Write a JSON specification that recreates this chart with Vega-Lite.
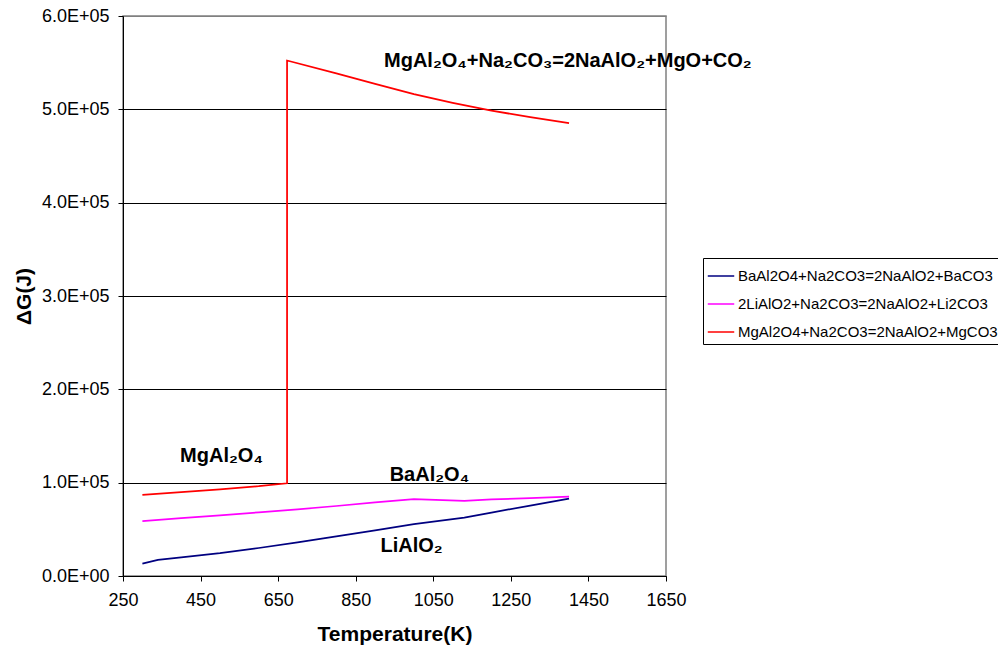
{
  "$schema": "https://vega.github.io/schema/vega-lite/v6.json",
  "autosize": "none",
  "width": 543,
  "height": 560,
  "padding": {"left": 123, "top": 16, "right": 332, "bottom": 73},
  "background": "white",
  "config": {
    "font": "Liberation Sans",
    "view": {"stroke": "#808080", "strokeWidth": 1.5},
    "axis": {"labelColor": "black", "titleColor": "black", "domainColor": "black", "tickColor": "black", "labelFont": "Liberation Sans", "titleFont": "Liberation Sans"}
  },
  "datasets": {
    "lines": [
      {"s": "BaAl2O4+Na2CO3=2NaAlO2+BaCO3", "i": 1, "T": 300, "G": 13200},
      {"s": "BaAl2O4+Na2CO3=2NaAlO2+BaCO3", "i": 2, "T": 340, "G": 17200},
      {"s": "BaAl2O4+Na2CO3=2NaAlO2+BaCO3", "i": 3, "T": 400, "G": 20000},
      {"s": "BaAl2O4+Na2CO3=2NaAlO2+BaCO3", "i": 4, "T": 500, "G": 24500},
      {"s": "BaAl2O4+Na2CO3=2NaAlO2+BaCO3", "i": 5, "T": 600, "G": 30000},
      {"s": "BaAl2O4+Na2CO3=2NaAlO2+BaCO3", "i": 6, "T": 700, "G": 36000},
      {"s": "BaAl2O4+Na2CO3=2NaAlO2+BaCO3", "i": 7, "T": 800, "G": 42500},
      {"s": "BaAl2O4+Na2CO3=2NaAlO2+BaCO3", "i": 8, "T": 900, "G": 49000},
      {"s": "BaAl2O4+Na2CO3=2NaAlO2+BaCO3", "i": 9, "T": 1000, "G": 55500},
      {"s": "BaAl2O4+Na2CO3=2NaAlO2+BaCO3", "i": 10, "T": 1130, "G": 62500},
      {"s": "BaAl2O4+Na2CO3=2NaAlO2+BaCO3", "i": 11, "T": 1200, "G": 68000},
      {"s": "BaAl2O4+Na2CO3=2NaAlO2+BaCO3", "i": 12, "T": 1300, "G": 75500},
      {"s": "BaAl2O4+Na2CO3=2NaAlO2+BaCO3", "i": 13, "T": 1400, "G": 83000},
      {"s": "2LiAlO2+Na2CO3=2NaAlO2+Li2CO3", "i": 1, "T": 300, "G": 58900},
      {"s": "2LiAlO2+Na2CO3=2NaAlO2+Li2CO3", "i": 2, "T": 400, "G": 62000},
      {"s": "2LiAlO2+Na2CO3=2NaAlO2+Li2CO3", "i": 3, "T": 500, "G": 65000},
      {"s": "2LiAlO2+Na2CO3=2NaAlO2+Li2CO3", "i": 4, "T": 600, "G": 68200},
      {"s": "2LiAlO2+Na2CO3=2NaAlO2+Li2CO3", "i": 5, "T": 700, "G": 71500},
      {"s": "2LiAlO2+Na2CO3=2NaAlO2+Li2CO3", "i": 6, "T": 800, "G": 75000},
      {"s": "2LiAlO2+Na2CO3=2NaAlO2+Li2CO3", "i": 7, "T": 900, "G": 78800},
      {"s": "2LiAlO2+Na2CO3=2NaAlO2+Li2CO3", "i": 8, "T": 1000, "G": 82400},
      {"s": "2LiAlO2+Na2CO3=2NaAlO2+Li2CO3", "i": 9, "T": 1130, "G": 80400},
      {"s": "2LiAlO2+Na2CO3=2NaAlO2+Li2CO3", "i": 10, "T": 1200, "G": 82000},
      {"s": "2LiAlO2+Na2CO3=2NaAlO2+Li2CO3", "i": 11, "T": 1300, "G": 83500},
      {"s": "2LiAlO2+Na2CO3=2NaAlO2+Li2CO3", "i": 12, "T": 1400, "G": 85000},
      {"s": "MgAl2O4+Na2CO3=2NaAlO2+MgCO3", "i": 1, "T": 300, "G": 87000},
      {"s": "MgAl2O4+Na2CO3=2NaAlO2+MgCO3", "i": 2, "T": 400, "G": 89900},
      {"s": "MgAl2O4+Na2CO3=2NaAlO2+MgCO3", "i": 3, "T": 500, "G": 92900},
      {"s": "MgAl2O4+Na2CO3=2NaAlO2+MgCO3", "i": 4, "T": 600, "G": 96200},
      {"s": "MgAl2O4+Na2CO3=2NaAlO2+MgCO3", "i": 5, "T": 673, "G": 99300},
      {"s": "MgAl2O4+Na2CO3=2NaAlO2+MgCO3", "i": 6, "T": 673, "G": 552300},
      {"s": "MgAl2O4+Na2CO3=2NaAlO2+MgCO3", "i": 7, "T": 800, "G": 538500},
      {"s": "MgAl2O4+Na2CO3=2NaAlO2+MgCO3", "i": 8, "T": 900, "G": 527300},
      {"s": "MgAl2O4+Na2CO3=2NaAlO2+MgCO3", "i": 9, "T": 1000, "G": 516300},
      {"s": "MgAl2O4+Na2CO3=2NaAlO2+MgCO3", "i": 10, "T": 1100, "G": 507000},
      {"s": "MgAl2O4+Na2CO3=2NaAlO2+MgCO3", "i": 11, "T": 1200, "G": 498600},
      {"s": "MgAl2O4+Na2CO3=2NaAlO2+MgCO3", "i": 12, "T": 1300, "G": 491600},
      {"s": "MgAl2O4+Na2CO3=2NaAlO2+MgCO3", "i": 13, "T": 1400, "G": 485200}
    ],
    "labels": [
      {"text": "MgAl₂O₄+Na₂CO₃=2NaAlO₂+MgO+CO₂", "T": 1397, "G": 545200},
      {"text": "MgAl₂O₄", "T": 504, "G": 121900},
      {"text": "BaAl₂O₄", "T": 1040, "G": 101800},
      {"text": "LiAlO₂", "T": 994, "G": 25400}
    ]
  },
  "layer": [
    {
      "data": {"name": "lines"},
      "mark": {"type": "line", "strokeWidth": 1.75},
      "encoding": {
        "x": {"field": "T", "type": "quantitative",
              "scale": {"domain": [250, 1650], "nice": false, "zero": false},
              "axis": {"values": [250, 450, 650, 850, 1050, 1250, 1450, 1650], "format": "d", "grid": false, "title": "Temperature(K)",
                       "labelFontSize": 18, "titleFontSize": 21, "titleFontWeight": "bold", "tickSize": 5, "labelPadding": 10, "titlePadding": 14, "labelFlush": false, "labelOverlap": false}},
        "y": {"field": "G", "type": "quantitative",
              "scale": {"domain": [0, 600000], "nice": false},
              "axis": {"values": [0, 100000, 200000, 300000, 400000, 500000, 600000], "grid": true,
                       "gridColor": {"condition": {"test": "datum.value == 600000", "value": "#808080"}, "value": "black"},
                       "gridWidth": 1, "title": "ΔG(J)",
                       "labelExpr": "datum.value == 0 ? '0.0E+00' : format(datum.value / 100000, '.1f') + 'E+05'",
                       "labelFontSize": 18, "titleFontSize": 21, "titleFontWeight": "bold", "tickSize": 5, "labelPadding": 9, "titlePadding": 7, "labelOverlap": false}},
        "color": {"field": "s", "type": "nominal",
                  "scale": {"domain": ["BaAl2O4+Na2CO3=2NaAlO2+BaCO3", "2LiAlO2+Na2CO3=2NaAlO2+Li2CO3", "MgAl2O4+Na2CO3=2NaAlO2+MgCO3"], "range": ["#000080", "#FF00FF", "#FF0000"]},
                  "legend": {"title": null, "orient": "none", "legendX": 580, "legendY": 242, "strokeColor": "black", "fillColor": "white", "padding": 4,
                             "labelFontSize": 15, "labelFont": "Liberation Sans", "labelColor": "black", "labelLimit": 400, "symbolType": "stroke", "symbolSize": 700, "symbolStrokeWidth": 1.5, "rowPadding": 6, "labelOffset": 3}},
        "order": {"field": "i", "type": "quantitative"}
      }
    },
    {
      "data": {"name": "labels"},
      "mark": {"type": "text", "font": "Liberation Sans", "fontWeight": "bold", "fontSize": 20, "align": "center", "baseline": "alphabetic", "color": "black"},
      "encoding": {
        "x": {"field": "T", "type": "quantitative"},
        "y": {"field": "G", "type": "quantitative"},
        "text": {"field": "text"}
      }
    }
  ]
}
